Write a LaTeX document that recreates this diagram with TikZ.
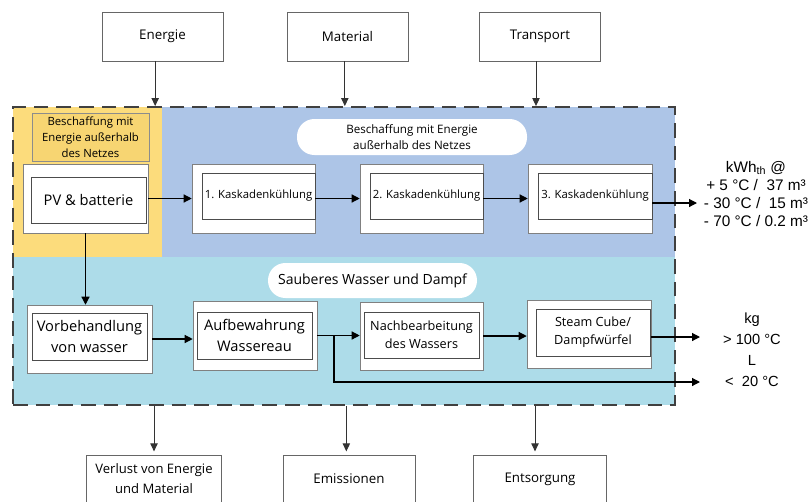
\documentclass[tikz,border=0pt]{standalone}
\usepackage{fontspec}
\setmainfont{Open Sans}
\newfontfamily\arialfont{Liberation Sans}
\usetikzlibrary{arrows.meta,positioning}
\definecolor{yellowbg}{HTML}{FCDC7C}
\definecolor{titleyellow}{HTML}{F7D572}
\definecolor{bluebg}{HTML}{ADC5E7}
\definecolor{cyanbg}{HTML}{ADDCE9}
\begin{document}
\begin{tikzpicture}[
    x=0.75pt, y=-0.75pt,
    topbox/.style={draw=black!60, fill=white, minimum width=91pt, minimum height=37pt, inner sep=1pt, align=center, font=\fontsize{10}{15}\selectfont},
    outerbox/.style={draw=black!50, fill=white, inner sep=0pt},
    innerbox/.style={draw=black!70, fill=white, inner sep=1pt, align=center},
    pill/.style={fill=white, rounded corners=13pt, inner sep=1pt, align=center},
    sidetext/.style={align=center, inner sep=0pt, font=\arialfont\fontsize{11.5}{13.5}\selectfont},
    flow/.style={-{Triangle[width=6pt,length=6pt]}, line width=0.9pt},
    feed/.style={-{Triangle[width=5.5pt,length=6pt]}, line width=0.7pt, black!80},
    >=Stealth
]
\useasboundingbox (0,0) rectangle (811,501);
% Hintergrundflaechen
\fill[yellowbg] (13,107) rectangle (162,257);
\fill[bluebg] (162,107) rectangle (675,257);
\fill[cyanbg] (13,257) rectangle (675,405);
\node[draw=black!75, line width=1.4pt, dash pattern=on 11pt off 6pt, minimum width=496.5pt, minimum height=223.5pt, inner sep=0pt] (frame) at (344,256) {};

% Eingaenge und Ausgaenge
\node[topbox] (energie) at (162.5,36.5) {Energie};
\node[topbox] (material) at (347.5,36.5) {Material};
\node[topbox] (transport) at (540,36.5) {Transport};
\node[topbox, minimum width=101pt, minimum height=36pt, font=\fontsize{9.8}{15}\selectfont] (verlust) at (154,479) {Verlust von Energie\\und Material};
\node[topbox, minimum width=99pt, minimum height=36pt] (emission) at (349,479) {Emissionen};
\node[topbox, minimum width=100pt, minimum height=36pt] (entsorgung) at (540,479) {Entsorgung};

% Kuehlung
\node[draw=black!45, fill=titleyellow, minimum width=87.75pt, minimum height=36pt, inner sep=0pt, align=center, font=\fontsize{8.5}{12}\selectfont] (titel) at (90.5,137) {Beschaffung mit\\Energie außerhalb\\des Netzes};
\node[pill, minimum width=172.5pt, minimum height=27pt, font=\fontsize{8.7}{12}\selectfont] (beschaffung) at (412,137) {Beschaffung mit Energie\\außerhalb des Netzes};
\node[outerbox, minimum width=93.75pt, minimum height=51.75pt] (pv) at (85.5,198.5) {};
\node[innerbox, minimum width=86.25pt, minimum height=34.5pt, font=\fontsize{11}{13}\selectfont] (pvin) at (88.5,200) {PV \& batterie};
\node[outerbox, minimum width=92.25pt, minimum height=51.75pt] (k1) at (253.5,198.5) {};
\node[innerbox, minimum width=84.75pt, minimum height=34.5pt, font=\fontsize{8.5}{10}\selectfont] (k1in) at (258.5,196) {1. Kaskadenkühlung};
\node[outerbox, minimum width=92.25pt, minimum height=51.75pt] (k2) at (421.5,198.5) {};
\node[innerbox, minimum width=84.75pt, minimum height=34.5pt, font=\fontsize{8.5}{10}\selectfont] (k2in) at (426.5,196) {2. Kaskadenkühlung};
\node[outerbox, minimum width=93pt, minimum height=51.75pt] (k3) at (590,198.5) {};
\node[innerbox, minimum width=85.5pt, minimum height=34.5pt, font=\fontsize{8.5}{10}\selectfont] (k3in) at (595,196) {3. Kaskadenkühlung};
\node[sidetext] (kwh) at (756,194) {kWh\textsubscript{th} @\\+ 5 °C /~~37 m³\\- 30 °C /~~15 m³\\- 70 °C / 0.2 m³};
\coordinate (kwhpfeil) at (697,203);

% Wasser
\node[pill, minimum width=156.75pt, minimum height=26.25pt, font=\fontsize{10.5}{13}\selectfont] (sauber) at (372.5,280.5) {Sauberes Wasser und Dampf};
\node[outerbox, minimum width=93.75pt, minimum height=51pt] (vorb) at (89.5,339) {};
\node[innerbox, minimum width=86.25pt, minimum height=35.25pt, font=\fontsize{11}{15.5}\selectfont] (vorbin) at (89.5,336.5) {Vorbehandlung\\von wasser};
\node[outerbox, minimum width=93pt, minimum height=51.75pt] (aufb) at (255,335.5) {};
\node[innerbox, minimum width=86.25pt, minimum height=35.25pt, font=\fontsize{11}{15.5}\selectfont] (aufbin) at (254.5,335.5) {Aufbewahrung\\Wassereau};
\node[outerbox, minimum width=92.25pt, minimum height=51pt] (nachb) at (421.5,336) {};
\node[innerbox, minimum width=86.25pt, minimum height=34.5pt, font=\fontsize{9.5}{13.5}\selectfont] (nachbin) at (421.5,335) {Nachbearbeitung\\des Wassers};
\node[outerbox, minimum width=93pt, minimum height=51pt] (steam) at (589,334) {};
\node[innerbox, minimum width=85.5pt, minimum height=35.25pt, font=\fontsize{9.5}{13.5}\selectfont] (steamin) at (593,332.5) {Steam Cube/\\Dampfwürfel};
\node[sidetext, font=\arialfont\fontsize{11}{15.75}\selectfont] (kg) at (752,350) {kg\\> 100 °C\\L\\<~~20 °C};
\coordinate (kgpfeil) at (700,337);
\coordinate (abzweig) at (334,335.5);
\coordinate (lpfeil) at (700,382);

% Pfeile
\draw[feed] ([xshift=-5.5pt]energie.south) -- ([xshift=-5.5pt]energie.south |- frame.north);
\draw[feed] ([xshift=-2pt]material.south) -- ([xshift=-2pt]material.south |- frame.north);
\draw[feed] ([xshift=-3pt]transport.south) -- ([xshift=-3pt]transport.south |- frame.north);
\draw[feed] (verlust.north |- frame.south) -- ([yshift=2.5pt]verlust.north);
\draw[feed] ([xshift=-2pt]emission.north |- frame.south) -- ([xshift=-2pt,yshift=2.5pt]emission.north);
\draw[feed] ([xshift=-3.75pt]entsorgung.north |- frame.south) -- ([xshift=-3.75pt,yshift=2.5pt]entsorgung.north);
\draw[flow] (pv.east) -- (k1.west);
\draw[flow] (k1.east) -- (k2.west);
\draw[flow] (k2.east) -- (k3.west);
\draw[flow] (k3.east |- kwhpfeil) -- (kwhpfeil);
\draw[flow] (pv.south) -- (vorb.north -| pv.south);
\draw[flow] (vorb.east) -- (vorb.east -| aufb.west);
\draw[flow] (aufb.east) -- (aufb.east -| nachb.west);
\draw[flow] (nachb.east) -- (nachb.east -| steam.west);
\draw[flow] (steam.east |- kgpfeil) -- (kgpfeil);
\draw[flow] (abzweig) |- (lpfeil);
\end{tikzpicture}
\end{document}
